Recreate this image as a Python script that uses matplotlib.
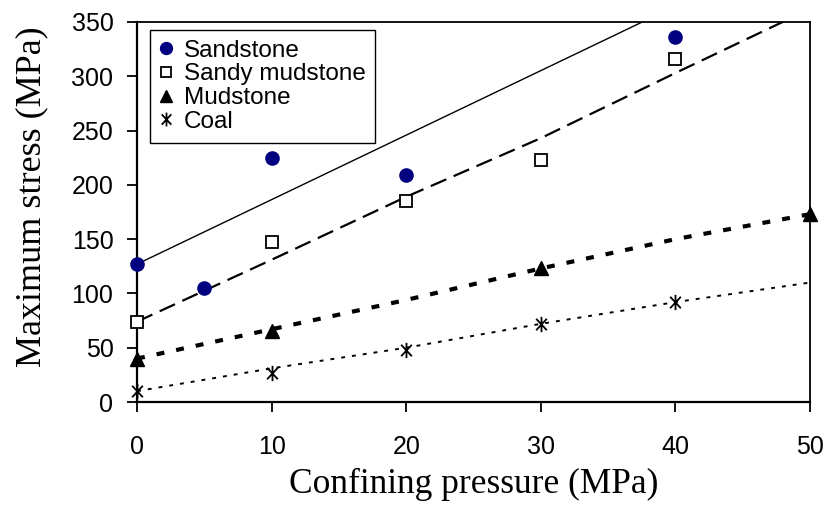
import matplotlib
matplotlib.use("Agg")
import matplotlib.pyplot as plt
from matplotlib.path import Path

# ---- data ----
sand_x = [0, 5, 10, 20, 40]
sand_y = [127, 105, 225, 209, 336]
sandy_x = [0, 10, 20, 30, 40]
sandy_y = [74, 147, 185, 223, 316]
mud_x = [0, 10, 30, 50]
mud_y = [40, 65, 123, 173]
coal_x = [0, 10, 20, 30, 40]
coal_y = [10, 27, 48, 72, 92]

# trend lines as drawn in the reference
sand_fit_x = [0, 50]
sand_fit_y = [127, 424]
sandy_fit_x = [0, 10, 20, 30, 40, 50]
sandy_fit_y = [74, 131, 189, 243, 303, 362]
mud_fit_x = [0, 10, 20, 30, 40, 50]
mud_fit_y = [40, 67, 94, 123, 150, 173]
coal_fit_x = [0, 10, 20, 30, 40, 50]
coal_fit_y = [10, 31, 50, 72, 92, 110]

labels = ["Sandstone", "Sandy mudstone", "Mudstone", "Coal"]
xticks = [0, 10, 20, 30, 40, 50]
yticks = [0, 50, 100, 150, 200, 250, 300, 350]

star = Path([(0, -1), (0, 1), (-0.7, -0.75), (0.7, 0.75), (-0.7, 0.75), (0.7, -0.75)],
            [Path.MOVETO, Path.LINETO, Path.MOVETO, Path.LINETO, Path.MOVETO, Path.LINETO])

fig = plt.figure(figsize=(8.27, 5.09), dpi=100)
ax = fig.add_axes([0.1657, 0.2102, 0.9794 - 0.1657, 0.9568 - 0.2102])

ax.plot(sand_fit_x, sand_fit_y, color="black", lw=1.0, zorder=2)
ax.plot(sandy_fit_x, sandy_fit_y, color="black", lw=1.6, dashes=(7.6, 3.6), zorder=2)
ax.plot(mud_fit_x, mud_fit_y, color="black", lw=3.0, dashes=(1.9, 2.9), zorder=2)
ax.plot(coal_fit_x, coal_fit_y, color="black", lw=1.4, dashes=(2.0, 3.6), zorder=2)

h1, = ax.plot(sand_x, sand_y, "o", ms=9.5, color="#000080", mec="#000080", ls="none",
              clip_on=False, zorder=4)
h2, = ax.plot(sandy_x, sandy_y, "s", ms=8.5, mfc="white", mec="black", mew=1.3, ls="none",
              clip_on=False, zorder=4)
h3, = ax.plot(mud_x, mud_y, "^", ms=10, color="black", ls="none",
              clip_on=False, zorder=4)
h4, = ax.plot(coal_x, coal_y, marker=star, ms=11, color="black", mew=1.3, ls="none",
              clip_on=False, zorder=4)

ax.set_xlim(0, 50)
ax.set_ylim(0, 350)
ax.set_xticks(xticks)
ax.set_yticks(yticks)
ax.tick_params(axis="both", direction="out", length=7, width=1.3, labelsize=18,
               labelfontfamily="Liberation Sans")
ax.tick_params(axis="x", pad=17)
ax.tick_params(axis="y", pad=10)
for s in ax.spines.values():
    s.set_linewidth(1.3)
ax.spines["left"].set_linewidth(1.6)
ax.spines["bottom"].set_linewidth(1.6)

ax.set_xlabel("Confining pressure (MPa)", fontfamily="Liberation Serif", fontsize=25.5, labelpad=6)
ax.set_ylabel("Maximum stress (MPa)", fontfamily="Liberation Serif", fontsize=26)
ax.yaxis.set_label_coords(-0.132, 0.539)

leg = ax.legend([h1, h2, h3, h4], labels, loc="upper left", bbox_to_anchor=(0.019, 0.979),
                prop={"family": "Liberation Sans", "size": 17.5}, frameon=True, fancybox=False,
                edgecolor="black", framealpha=1, borderpad=0.4, labelspacing=0.07,
                handlelength=0.55, handletextpad=0.45, borderaxespad=0, markerscale=0.9)
leg.get_frame().set_linewidth(1.0)

fig.savefig("out.png", dpi=100)
